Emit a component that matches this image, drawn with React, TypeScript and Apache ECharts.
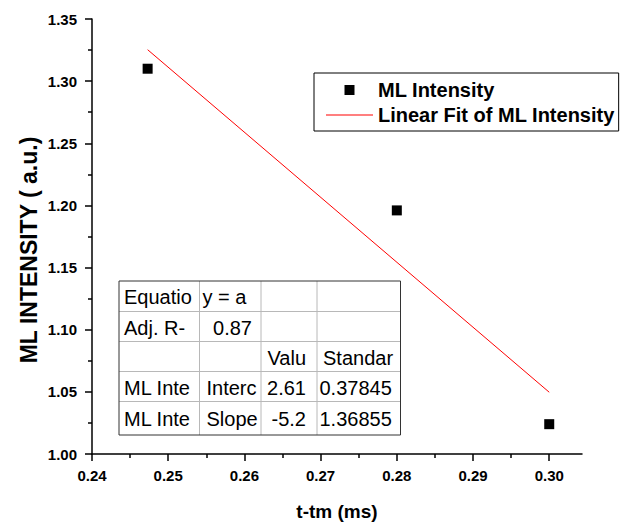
import React, { useEffect, useRef } from "react";
import * as echarts from "echarts";

const xValues = [0.2473, 0.28, 0.3];
const yValues = [1.31, 1.196, 1.024];
const fitX = [0.2473, 0.3];
const fitY = [1.3253, 1.0497];
const xMajorTicks = [0.24, 0.25, 0.26, 0.27, 0.28, 0.29, 0.3];
const xMinorTicks = [0.245, 0.255, 0.265, 0.275, 0.285, 0.295];
const tableRows = [
  ["Equatio", "y = a", "", ""],
  ["Adj. R-", "0.87", "", ""],
  ["", "", "Valu", "Standar"],
  ["ML Inte", "Interc", "2.61", "0.37845"],
  ["ML Inte", "Slope", "-5.2", "1.36855"],
];
const seriesNames = ["ML Intensity", "Linear Fit of ML Intensity"];
const xTitle = "t-tm (ms)";
const yTitle = "ML INTENSITY ( a.u.)";

const FONT = "'Liberation Sans', Arial, sans-serif";

// cell text placement: [align, offset from the cell's left (l) or right (r) edge]
const cellLayout: [string, number][][] = [
  [["l", 5], ["l", 3], ["l", 5], ["l", 6]],
  [["l", 5], ["r", 9], ["l", 5], ["l", 6]],
  [["l", 5], ["l", 7], ["r", 11], ["l", 6]],
  [["l", 5], ["l", 7], ["r", 11], ["l", 2.5]],
  [["l", 5], ["l", 7], ["r", 11], ["l", 2.5]],
];

export default function App() {
  const ref = useRef<HTMLDivElement>(null);
  useEffect(() => {
    document.body.style.margin = "0";
    if (!ref.current) return;
    const chart = echarts.init(ref.current, null, { renderer: "svg" });

    const colX = [119, 199.5, 261, 317, 400.5];
    const rowY = [281, 311.5, 341.5, 371.5, 401.5, 435];
    const tableChildren: any[] = [];
    for (let i = 1; i < colX.length - 1; i++) {
      tableChildren.push({
        type: "line",
        shape: { x1: colX[i], y1: rowY[0], x2: colX[i], y2: rowY[rowY.length - 1] },
        style: { stroke: "#b8b8b8", lineWidth: 1 },
      });
    }
    for (let j = 1; j < rowY.length - 1; j++) {
      tableChildren.push({
        type: "line",
        shape: { x1: colX[0], y1: rowY[j], x2: colX[colX.length - 1], y2: rowY[j] },
        style: { stroke: "#b8b8b8", lineWidth: 1 },
      });
    }
    tableChildren.push({
      type: "rect",
      shape: {
        x: colX[0],
        y: rowY[0],
        width: colX[colX.length - 1] - colX[0],
        height: rowY[rowY.length - 1] - rowY[0],
      },
      style: { fill: "none", stroke: "#333", lineWidth: 1 },
    });
    tableRows.forEach((row, r) => {
      row.forEach((txt, c) => {
        if (!txt) return;
        const [al, off] = cellLayout[r][c];
        tableChildren.push({
          type: "text",
          x: al === "r" ? colX[c + 1] - off : colX[c] + off,
          y: (rowY[r] + rowY[r + 1]) / 2 + 1,
          style: {
            text: txt,
            font: `20px ${FONT}`,
            fill: "#000",
            align: al === "r" ? "right" : "left",
            verticalAlign: "middle",
          },
        });
      });
    });

    const tickLabelStyle = {
      fontFamily: FONT,
      fontWeight: "bold" as const,
      fontSize: 15,
      color: "#000",
    };

    chart.setOption({
      animation: false,
      grid: { left: 92, right: 39, top: 19, bottom: 71, containLabel: false },
      legend: {
        orient: "vertical",
        left: 314,
        top: 73,
        padding: [7, 4, 6, 12],
        itemGap: 5,
        itemWidth: 47,
        itemHeight: 10,
        symbolKeepAspect: true,
        borderColor: "#000",
        borderWidth: 1,
        borderRadius: 0,
        backgroundColor: "#fff",
        textStyle: { fontFamily: FONT, fontWeight: "bold", fontSize: 20, color: "#000" },
        data: [
          { name: seriesNames[0], icon: "path://M0,0L10,0L10,10L0,10Z", itemStyle: { color: "#000" } },
          { name: seriesNames[1], icon: "path://M0,0L47,0L47,1L0,1Z", itemStyle: { color: "#ff0000" } },
        ],
      },
      xAxis: [
        {
          type: "value",
          min: 0.24,
          max: 0.3043,
          interval: 0.01,
          name: xTitle,
          nameLocation: "middle",
          nameGap: 48,
          nameTextStyle: { fontFamily: FONT, fontWeight: "bold", fontSize: 19, color: "#000" },
          axisLine: { show: true, onZero: false, lineStyle: { color: "#000", width: 1.5 } },
          axisTick: { show: true, length: 7, customValues: xMajorTicks, lineStyle: { color: "#000", width: 1.5 } },
          axisLabel: {
            ...tickLabelStyle,
            margin: 14,
            customValues: xMajorTicks,
            formatter: (v: number) => v.toFixed(2),
          },
          splitLine: { show: false },
        },
        {
          type: "value",
          position: "bottom",
          min: 0.24,
          max: 0.3043,
          interval: 0.01,
          axisLine: { show: false, onZero: false },
          axisTick: { show: true, length: 4, customValues: xMinorTicks, lineStyle: { color: "#000", width: 1.5 } },
          axisLabel: { show: false },
          splitLine: { show: false },
        },
      ],
      yAxis: {
        type: "value",
        min: 1.0,
        max: 1.35,
        interval: 0.05,
        axisLine: { show: true, onZero: false, lineStyle: { color: "#000", width: 1.5 } },
        axisTick: { show: true, length: 7, lineStyle: { color: "#000", width: 1.5 } },
        minorTick: { show: true, splitNumber: 2, length: 4, lineStyle: { color: "#000", width: 1.5 } },
        axisLabel: { ...tickLabelStyle, margin: 15, formatter: (v: number) => v.toFixed(2) },
        splitLine: { show: false },
      },
      graphic: [
        { type: "group", children: tableChildren },
        {
          type: "text",
          x: 29,
          y: 250,
          rotation: Math.PI / 2,
          style: {
            text: yTitle,
            font: `bold 23px ${FONT}`,
            fill: "#000",
            align: "center",
            verticalAlign: "middle",
          },
        },
      ],
      series: [
        {
          name: seriesNames[0],
          type: "scatter",
          symbol: "rect",
          symbolSize: 10,
          itemStyle: { color: "#000", opacity: 1 },
          data: xValues.map((x, i) => [x, yValues[i]]),
        },
        {
          name: seriesNames[1],
          type: "line",
          symbol: "none",
          lineStyle: { color: "#ff0000", width: 1 },
          itemStyle: { color: "#ff0000" },
          data: fitX.map((x, i) => [x, fitY[i]]),
        },
      ],
    });
    return () => chart.dispose();
  }, []);
  return <div ref={ref} style={{ width: 621, height: 526 }} />;
}
